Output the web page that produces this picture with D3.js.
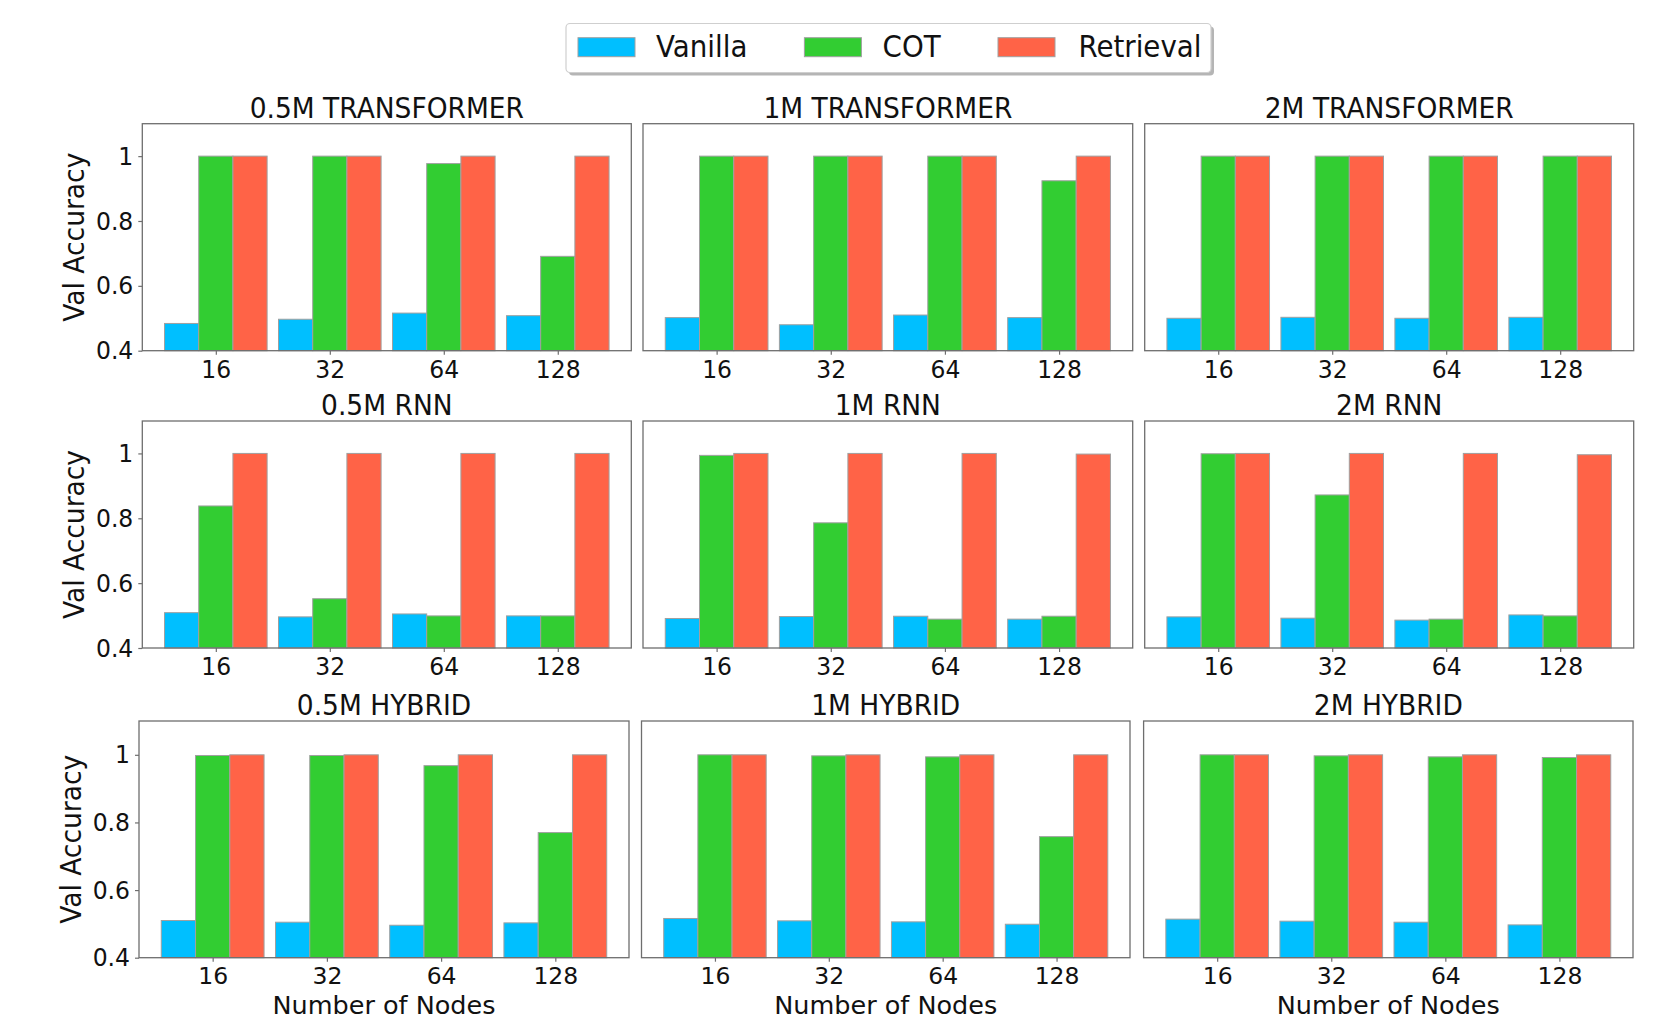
<!DOCTYPE html>
<html>
<head>
<meta charset="utf-8">
<script src="https://cdn.jsdelivr.net/npm/d3@7"></script>
<style>
  html, body { margin: 0; padding: 0; background: #fff; }
  svg { display: block; font-family: "DejaVu Sans", sans-serif; }
</style>
</head>
<body>
<svg id="chart" width="1668" height="1020"></svg>
<script>
// ---------------- data ----------------
const categories = ["16", "32", "64", "128"];
const seriesNames = ["Vanilla", "COT", "Retrieval"];
const seriesColors = ["#00BFFF", "#32CD32", "#FF6347"];
const panelTitles = [
  "0.5M TRANSFORMER", "1M TRANSFORMER", "2M TRANSFORMER",
  "0.5M RNN", "1M RNN", "2M RNN",
  "0.5M HYBRID", "1M HYBRID", "2M HYBRID"
];
const vanilla = [
  [0.484, 0.497, 0.516, 0.508],
  [0.502, 0.480, 0.510, 0.502],
  [0.500, 0.503, 0.500, 0.503],
  [0.509, 0.496, 0.505, 0.499],
  [0.491, 0.497, 0.498, 0.489],
  [0.496, 0.492, 0.486, 0.502],
  [0.510, 0.505, 0.496, 0.503],
  [0.516, 0.509, 0.506, 0.499],
  [0.514, 0.508, 0.505, 0.497]
];
const cot = [
  [1.000, 1.000, 0.977, 0.691],
  [1.000, 1.000, 1.000, 0.924],
  [1.000, 1.000, 1.000, 1.000],
  [0.838, 0.552, 0.499, 0.499],
  [0.994, 0.786, 0.489, 0.498],
  [0.999, 0.872, 0.489, 0.499],
  [0.998, 0.998, 0.968, 0.770],
  [1.000, 0.997, 0.994, 0.758],
  [1.000, 0.997, 0.994, 0.992]
];
const retrieval = [
  [1.000, 1.000, 1.000, 1.000],
  [1.000, 1.000, 1.000, 1.000],
  [1.000, 1.000, 1.000, 1.000],
  [1.000, 1.000, 1.000, 1.000],
  [1.000, 1.000, 1.000, 0.998],
  [1.000, 1.000, 1.000, 0.996],
  [1.000, 1.000, 1.000, 1.000],
  [1.000, 1.000, 1.000, 1.000],
  [1.000, 1.000, 1.000, 1.000]
];
const yTickValues = [0.4, 0.6, 0.8, 1.0];
const yDomain = [0.4, 1.1];
const yLabel = "Val Accuracy";
const xLabel = "Number of Nodes";

// ---------------- layout ----------------
const rowBounds = [[123.7, 350.7], [421, 648], [721, 957.7]];
const colBounds = [
  [[142.3, 631.3], [643, 1132.7], [1144.7, 1633.7]],
  [[142.3, 631.3], [643, 1132.7], [1144.7, 1633.7]],
  [[139, 629], [641.5, 1130], [1143.6, 1633]]
];
const barW = 0.3;
const FONT_TITLE = 26.5, FONT_TICK = 23.5, FONT_LABEL = 26.5, FONT_XLABEL = 25.5, FONT_LEGEND = 27.7;
const VSTRETCH = 1.07;
const SPINE = "#6e6e6e";

const svg = d3.select("#chart");
const allSeries = [vanilla, cot, retrieval];

function addText(parent, x, y, txt, size, anchor, rotate, stretch) {
  const rot = rotate ? ` rotate(${rotate})` : "";
  const s = stretch === undefined ? VSTRETCH : stretch;
  return parent.append("text")
    .attr("transform", `translate(${x},${y})${rot} scale(1,${s})`)
    .attr("text-anchor", anchor)
    .attr("font-size", size)
    .attr("fill", "#111")
    .text(txt);
}

panelTitles.forEach((title, p) => {
  const r = Math.floor(p / 3), c = p % 3;
  const [top, bottom] = rowBounds[r];
  const [left, right] = colBounds[r][c];
  const x = d3.scaleLinear().domain([-0.645, 3.645]).range([left, right]);
  const y = d3.scaleLinear().domain(yDomain).range([bottom, top]);
  const g = svg.append("g");

  // bars
  const barData = [];
  categories.forEach((cat, i) => {
    allSeries.forEach((s, k) => {
      barData.push({ i, k, v: s[p][i] });
    });
  });
  g.selectAll("rect.bar").data(barData).join("rect")
    .attr("class", "bar")
    .attr("x", d => x(d.i + (d.k - 1) * barW - barW / 2))
    .attr("width", d => x(barW) - x(0))
    .attr("y", d => y(d.v))
    .attr("height", d => y(yDomain[0]) - y(d.v))
    .attr("fill", d => seriesColors[d.k])
    .attr("stroke", "#a0a0a0")
    .attr("stroke-width", 1);

  // x axis
  const lastRow = r === 2;
  const xAxis = d3.axisBottom(x)
    .tickValues(categories.map((_, i) => i))
    .tickFormat(i => categories[i])
    .tickSize(4).tickPadding(lastRow ? 5.5 : 5);
  const xa = g.append("g").attr("transform", `translate(0,${bottom})`).call(xAxis);
  xa.select(".domain").remove();
  xa.selectAll(".tick line").attr("stroke", SPINE).attr("stroke-width", 1.2);
  xa.selectAll(".tick text").attr("font-size", FONT_TICK).attr("fill", "#111")
    .attr("font-family", "DejaVu Sans").attr("dy", "0.71em")
    .attr("transform", `scale(1,${lastRow ? 1.0 : VSTRETCH})`);

  // y axis for first column
  if (c === 0) {
    const yAxis = d3.axisLeft(y)
      .tickValues(yTickValues)
      .tickFormat(v => v === 1 ? "1" : d3.format(".1f")(v))
      .tickSize(4).tickPadding(5);
    const ya = g.append("g").attr("transform", `translate(${left},0)`).call(yAxis);
    ya.select(".domain").remove();
    ya.selectAll(".tick line").attr("stroke", SPINE).attr("stroke-width", 1.2);
    ya.selectAll(".tick text").attr("font-size", FONT_TICK).attr("fill", "#111")
      .attr("font-family", "DejaVu Sans")
      .attr("transform", `scale(1,${VSTRETCH})`);
    addText(g, left - 58, (top + bottom) / 2, yLabel, FONT_LABEL, "middle", -90);
  }

  // frame
  g.append("rect")
    .attr("x", left).attr("y", top)
    .attr("width", right - left).attr("height", bottom - top)
    .attr("fill", "none").attr("stroke", SPINE).attr("stroke-width", 1.3);

  // title
  addText(g, (left + right) / 2, top - 6, title, FONT_TITLE, "middle");

  // x label for bottom row
  if (lastRow) {
    addText(g, (left + right) / 2, bottom + 55.8, xLabel, FONT_XLABEL, "middle", 0, 1.0);
  }
});

// ---------------- legend ----------------
const legend = svg.append("g");
const lgX = 566, lgY = 23.5, lgW = 645, lgH = 49;
legend.append("rect")
  .attr("x", lgX + 3).attr("y", lgY + 3).attr("width", lgW).attr("height", lgH)
  .attr("rx", 4).attr("fill", "#b5b5b5");
legend.append("rect")
  .attr("x", lgX).attr("y", lgY).attr("width", lgW).attr("height", lgH)
  .attr("rx", 4).attr("fill", "#fff").attr("stroke", "#cfcfcf").attr("stroke-width", 1.2);
const swatchX = [578, 804.4, 998];
const textX = [656, 882.6, 1078.4];
seriesNames.forEach((name, k) => {
  legend.append("rect")
    .attr("x", swatchX[k]).attr("y", 37.7).attr("width", 57).attr("height", 19)
    .attr("fill", seriesColors[k]).attr("stroke", "#a0a0a0").attr("stroke-width", 1);
  addText(legend, textX[k], 57, name, FONT_LEGEND, "start");
});
</script>
</body>
</html>
